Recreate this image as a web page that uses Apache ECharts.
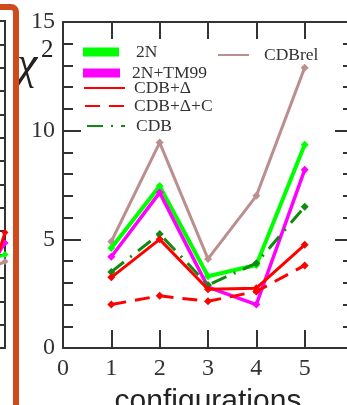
<!DOCTYPE html>
<html>
<head>
<meta charset="utf-8">
<script src="https://cdn.jsdelivr.net/npm/echarts@6/dist/echarts.min.js"></script>
<style>html,body{margin:0;padding:0;background:#fff;}#c{width:347px;height:405px;}</style>
</head>
<body>
<div id="c"></div>
<script>
// ---- data ----
var configs = [1, 2, 3, 4, 5];
var xTickLabels = ['0', '1', '2', '3', '4', '5'];
var yTickLabels = ['0', '5', '10', '15'];
var seriesNames = ['2N', '2N+TM99', 'CDB+\u0394', 'CDB+\u0394+C', 'CDB', 'CDBrel'];
var v2N      = [4.6, 7.45, 3.3, 3.82, 9.35];
var v2NTM99  = [4.2, 7.15, 2.8, 2.0, 8.2];
var vCDBD    = [3.25, 5.0, 2.7, 2.75, 4.75];
var vCDBDC   = [2.0, 2.4, 2.15, 2.6, 3.8];
var vCDB     = [3.5, 5.25, 2.9, 3.9, 6.5];
var vCDBrel  = [4.9, 9.45, 4.1, 7.0, 12.9];
// fragments of the neighbouring (cropped) panel on the left
var leftX       = [0.93, 1.0];
var leftRed     = [2.0, 4.95];
var leftMagenta = [3.0, 4.5];
var leftGreen   = [3.7, 4.0];
var leftBrown   = [3.3, 3.7];

function pairs(xs, vals) { return xs.map(function (c, i) { return [c, vals[i]]; }); }

var serif = 'Liberation Serif';
var axisCol = '#333';

var chart = echarts.init(document.getElementById('c'), null, {renderer: 'canvas'});

function mkSeries(name, vals, color, width, type, z) {
  return {
    name: name, type: 'line', xAxisIndex: 0, yAxisIndex: 0,
    data: pairs(configs, vals), symbol: 'diamond', symbolSize: 8,
    itemStyle: {color: color},
    lineStyle: {color: color, width: width, type: type},
    z: z, animation: false
  };
}
function mkLeft(vals, color, z) {
  return {
    type: 'line', xAxisIndex: 2, yAxisIndex: 2,
    data: pairs(leftX, vals), symbol: 'diamond', symbolSize: 7,
    itemStyle: {color: color}, lineStyle: {color: color, width: 3},
    z: z, animation: false
  };
}

function mkLegend(name, left, top, opts) {
  var l = {
    data: [name], left: left, top: top, padding: 0, orient: 'vertical',
    selectedMode: false,
    itemWidth: opts.w, itemHeight: opts.h,
    textStyle: {fontFamily: serif, fontSize: 17.5, color: '#333', padding: [0, 0, 0, opts.pad]}
  };
  if (opts.icon) { l.icon = opts.icon; }
  else { l.itemStyle = {opacity: 0}; }
  return l;
}

var option = {
  backgroundColor: '#fff',
  animation: false,
  title: [
    {text: '\u03c7', left: 17, top: 43, padding: 0,
      textStyle: {fontFamily: serif, fontStyle: 'italic', fontWeight: 'normal', fontSize: 46, color: '#222'}},
    {text: '2', left: 41, top: 38, padding: 0,
      textStyle: {fontFamily: serif, fontWeight: 'normal', fontSize: 25, color: '#222'}}
  ],
  graphic: [
    {type: 'rect', shape: {x: -20, y: 7, width: 36, height: 420, r: 5},
      style: {fill: 'none', stroke: '#d04b1c', lineWidth: 6}, z: 100}
  ],
  legend: [
    mkLegend(seriesNames[0], 83, 43, {icon: 'rect', w: 36, h: 9, pad: 12}),
    mkLegend(seriesNames[1], 83, 64, {icon: 'rect', w: 37, h: 9, pad: 7}),
    mkLegend(seriesNames[2], 83, 79, {w: 41, h: 14, pad: 4}),
    mkLegend(seriesNames[3], 84, 97, {w: 39, h: 14, pad: 5}),
    mkLegend(seriesNames[4], 86, 117, {w: 38, h: 14, pad: 6}),
    mkLegend(seriesNames[5], 217, 46, {w: 31, h: 14, pad: 10})
  ],
  grid: [
    {left: 63, top: 22, width: 290, height: 326, containLabel: false, outerBoundsMode: 'none'},
    {left: -300, top: 21, width: 305, height: 327, containLabel: false, outerBoundsMode: 'none'}
  ],
  xAxis: [
    {type: 'value', gridIndex: 0, min: 0, max: 6, interval: 1, position: 'bottom',
      axisLine: {show: true, onZero: false, lineStyle: {color: axisCol, width: 2}},
      axisTick: {show: true, inside: true, length: 18, lineStyle: {color: axisCol, width: 2}},
      axisLabel: {fontFamily: serif, fontSize: 24, color: '#333', margin: 9,
        formatter: function (v) { return xTickLabels[v] !== undefined ? xTickLabels[v] : ''; }},
      splitLine: {show: false},
      name: 'configurations', nameLocation: 'middle', nameGap: 39,
      nameTextStyle: {fontFamily: 'Liberation Sans', fontSize: 30, color: '#222'}},
    {type: 'value', gridIndex: 0, min: 0, max: 6, interval: 1, position: 'top',
      axisLine: {show: true, onZero: false, lineStyle: {color: axisCol, width: 2}},
      axisTick: {show: true, inside: true, length: 17, lineStyle: {color: axisCol, width: 2}},
      axisLabel: {show: false}, splitLine: {show: false}},
    {type: 'value', gridIndex: 1, min: 0, max: 1, position: 'bottom',
      axisLine: {show: true, onZero: false, lineStyle: {color: axisCol, width: 2}},
      axisTick: {show: false}, axisLabel: {show: false}, splitLine: {show: false}},
    {type: 'value', gridIndex: 1, min: 0, max: 1, position: 'top',
      axisLine: {show: true, onZero: false, lineStyle: {color: axisCol, width: 2}},
      axisTick: {show: false}, axisLabel: {show: false}, splitLine: {show: false}}
  ],
  yAxis: [
    {type: 'value', gridIndex: 0, min: 0, max: 15, interval: 5, position: 'left',
      axisLine: {show: true, onZero: false, lineStyle: {color: axisCol, width: 2}},
      axisTick: {show: true, inside: true, length: 18, lineStyle: {color: axisCol, width: 2}},
      minorTick: {show: true, splitNumber: 5, length: 10, lineStyle: {color: axisCol, width: 2}},
      axisLabel: {fontFamily: serif, fontSize: 24, color: '#333', margin: 8,
        formatter: function (v) { return yTickLabels[v / 5]; }},
      splitLine: {show: false}},
    {type: 'value', gridIndex: 0, min: 0, max: 15, interval: 5, position: 'right',
      axisLine: {show: true, onZero: false, lineStyle: {color: axisCol, width: 2}},
      axisTick: {show: true, inside: true, length: 18, lineStyle: {color: axisCol, width: 2}},
      minorTick: {show: true, splitNumber: 5, length: 10, lineStyle: {color: axisCol, width: 2}},
      axisLabel: {show: false}, splitLine: {show: false}},
    {type: 'value', gridIndex: 1, min: 0, max: 14, interval: 1, position: 'right',
      axisLine: {show: true, onZero: false, lineStyle: {color: axisCol, width: 2}},
      axisTick: {show: true, inside: true, length: 6, lineStyle: {color: axisCol, width: 2}},
      axisLabel: {show: false}, splitLine: {show: false}}
  ],
  series: [
    mkSeries(seriesNames[5], vCDBrel, '#bc8f8f', 3, 'solid', 2),
    mkSeries(seriesNames[0], v2N, '#00ff00', 4, 'solid', 3),
    mkSeries(seriesNames[1], v2NTM99, '#ff00ff', 3.5, 'solid', 4),
    mkSeries(seriesNames[4], vCDB, '#118a11', 3, [16, 8, 2, 8], 5),
    mkSeries(seriesNames[3], vCDBDC, '#ff0000', 3, [15, 9], 6),
    mkSeries(seriesNames[2], vCDBD, '#ff0000', 3, 'solid', 7),
    mkLeft(leftBrown, '#bc8f8f', 2),
    mkLeft(leftGreen, '#00ff00', 3),
    mkLeft(leftMagenta, '#ff00ff', 4),
    mkLeft(leftRed, '#ff0000', 5)
  ]
};
chart.setOption(option);
</script>
</body>
</html>
